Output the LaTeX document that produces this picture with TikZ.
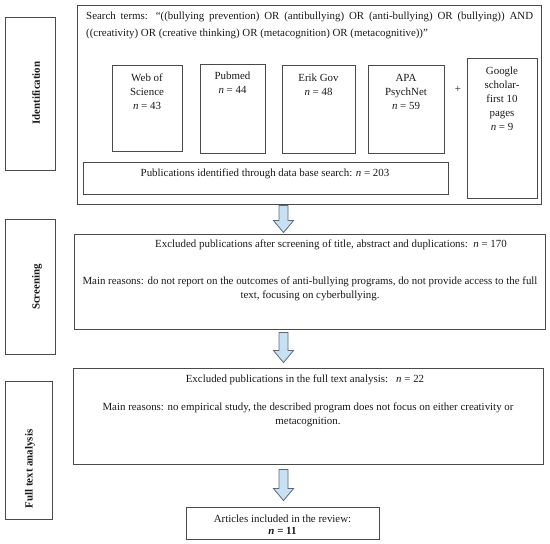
\documentclass[tikz,border=0pt]{standalone}
\usepackage{fontspec}
\setmainfont{Liberation Serif}
\usetikzlibrary{calc}
\definecolor{boxline}{HTML}{4A4A4A}
\definecolor{arrfill}{HTML}{C9DFF2}
\definecolor{arrline}{HTML}{5B6B7B}
\tikzset{
  box/.style={draw=boxline, line width=0.9pt, rectangle, inner sep=0pt},
  txt/.style={font=\fontsize{10.9}{14}\selectfont, text=black!90, align=center, inner sep=0pt},
  sidelabel/.style={font=\bfseries\fontsize{10.9}{12}\selectfont, text=black!90, rotate=90, inner sep=0pt},
  blockarr/.style={draw=arrline, fill=arrfill, line width=0.8pt, line join=miter}
}
\newcommand{\flowarrow}[2]{%
  \draw[blockarr] ($(#1)+(-4.5,0)$) -- ($(#2)+(-4.5,-12)$) -- ($(#2)+(-10,-12)$) -- (#2)
    -- ($(#2)+(10,-12)$) -- ($(#2)+(4.5,-12)$) -- ($(#1)+(4.5,0)$) -- cycle;}
\begin{document}
\begin{tikzpicture}[x=1pt, y=-1pt]
\useasboundingbox (0,0) rectangle (550,544);
% side boxes
\node[box, minimum width=50pt, minimum height=153pt] (idside) at (30,93.5) {};
\node[box, minimum width=50pt, minimum height=135pt] (scrside) at (30,286.5) {};
\node[box, minimum width=47pt, minimum height=138pt] (ftside) at (28.5,450) {};
\node[sidelabel] (idlab) at (36,93) {Identification};
\node[sidelabel] (scrlab) at (37,287) {Screening};
\node[sidelabel] (ftlab) at (30,469) {Full text analysis};
% identification stage
\node[box, minimum width=463.5pt, minimum height=199pt] (top) at (309.25,104.5) {};
\node[txt, anchor=base west] (search1) at (86,19.5) {\makebox[447pt][s]{Search terms: “((bullying prevention) OR (antibullying) OR (anti-bullying) OR (bullying)) AND}};
\node[txt, anchor=base west] (search2) at (86,36.5) {((creativity) OR (creative thinking) OR (metacognition) OR (metacognitive))”};
\node[box, minimum width=70pt, minimum height=86pt] (wos) at (147,108) {};
\node[box, minimum width=65pt, minimum height=89pt] (pub) at (232.5,108.5) {};
\node[box, minimum width=73pt, minimum height=88pt] (erik) at (318.5,109) {};
\node[box, minimum width=76pt, minimum height=88pt] (apa) at (406,109) {};
\node[box, minimum width=70pt, minimum height=140pt] (google) at (502,128) {};
\node[box, minimum width=365pt, minimum height=32pt] (pubs) at (265.5,178) {};
\node[txt] (wost) at (147,91.5) {Web of\\Science\\\textit{n} = 43};
\node[txt] (pubt) at (232.5,83) {Pubmed\\\textit{n} = 44};
\node[txt] (erikt) at (318.5,84.5) {Erik Gov\\\textit{n} = 48};
\node[txt] (apat) at (406,91.5) {APA\\PsychNet\\\textit{n} = 59};
\node[txt] (plus) at (458,89) {+};
\node[txt] (googlet) at (502,98.5) {Google\\scholar-\\first 10\\pages\\\textit{n} = 9};
\node[txt] (pubst) at (265,173.5) {Publications identified through data base search: \textit{n} = 203};
% screening stage
\node[box, minimum width=471pt, minimum height=95pt] (scr) at (309.5,281.5) {};
\node[txt] (scrt1) at (331,244.5) {Excluded publications after screening of title, abstract and duplications:\ \ \textit{n} = 170};
\node[txt] (scrt2) at (310,289) {Main reasons: do not report on the outcomes of anti-bullying programs, do not provide access to the full\\text, focusing on cyberbullying.};
% full text stage
\node[box, minimum width=470pt, minimum height=96pt] (ft) at (308,416) {};
\node[txt] (ftt1) at (305,379.5) {Excluded publications in the full text analysis:\ \ \ \textit{n} = 22};
\node[txt] (ftt2) at (308,414.5) {Main reasons: no empirical study, the described program does not focus on either creativity or\\metacognition.};
% final
\node[box, minimum width=193pt, minimum height=32pt] (final) at (282.5,523) {};
\node[txt, font=\fontsize{10.9}{12}\selectfont] (finalt) at (282.5,524.5) {Articles included in the review:\\\textbf{\textit{n} = 11}};
% arrows
\coordinate (ax) at (283.5,0);
\coordinate (a1s) at ($(top.south -| ax)+(0,1)$);
\coordinate (a1e) at ($(scr.north -| ax)+(0,-1)$);
\coordinate (a2s) at ($(scr.south -| ax)+(0,3)$);
\coordinate (a2e) at ($(ft.north -| ax)+(0,-5)$);
\coordinate (a3s) at ($(ft.south -| ax)+(0,5)$);
\coordinate (a3e) at ($(final.north -| ax)+(0,-6)$);
\flowarrow{a1s}{a1e}
\flowarrow{a2s}{a2e}
\flowarrow{a3s}{a3e}
\end{tikzpicture}
\end{document}
